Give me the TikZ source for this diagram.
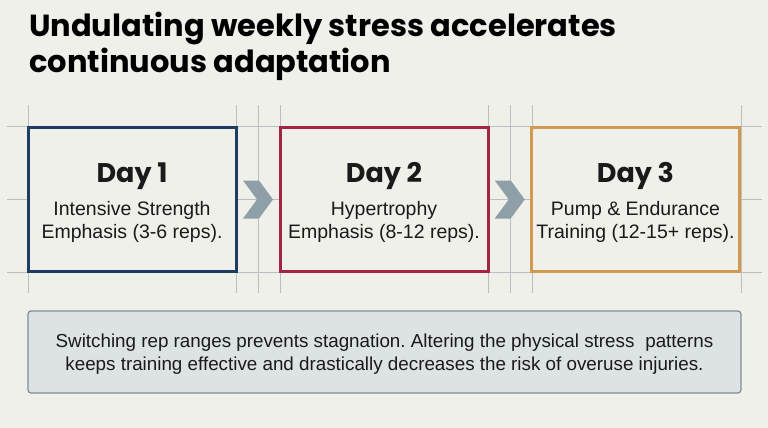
\documentclass[tikz,border=0pt]{standalone}
\usepackage{fontspec}
\setmainfont{Liberation Sans}
\newfontfamily\headfont{Poppins}
\usetikzlibrary{calc}
\definecolor{bg}{HTML}{F0F0EB}
\definecolor{gridc}{HTML}{B9C0C4}
\definecolor{navy}{HTML}{1D3D63}
\definecolor{crimson}{HTML}{A52443}
\definecolor{gold}{HTML}{D39A4F}
\definecolor{chev}{HTML}{8E9FA7}
\definecolor{notefill}{HTML}{DDE2E4}
\definecolor{noteline}{HTML}{7E8B94}
\definecolor{ink}{HTML}{1A1A1A}
\tikzset{
  gridline/.style={draw=gridc, line width=0.8pt},
  daybox/.style={draw=#1, line width=3pt, fill=bg, minimum width=208pt, minimum height=144pt, inner sep=0pt},
  daytitle/.style={font=\headfont\bfseries\fontsize{27}{30}\selectfont, text=ink, anchor=base, inner sep=0pt},
  daytext/.style={font=\fontsize{19.5}{23}\selectfont, text=ink, anchor=base, inner sep=0pt},
  chevron/.style={fill=chev, draw=none},
  titletext/.style={font=\headfont\bfseries\fontsize{30.5}{35}\selectfont, text=black, anchor=base west, inner sep=0pt},
  notebox/.style={draw=noteline, line width=1.2pt, fill=notefill, rounded corners=3pt, minimum width=713pt, minimum height=82pt, inner sep=0pt},
  notetext/.style={font=\fontsize{18.8}{23}\selectfont, text=ink, anchor=base, inner sep=0pt}
}
\begin{document}
\frenchspacing
\begin{tikzpicture}[x=1pt,y=-1pt]
\fill[bg] (0,0) rectangle (768,428);
\useasboundingbox (0,0) rectangle (768,428);
% grid
\foreach \gy in {126,199,272} \draw[gridline] (7,\gy) -- (762,\gy);
\foreach \gx in {28,236,258,280,488,510,532,741} \draw[gridline] (\gx,105) -- (\gx,293);
% title
\node[titletext] (t1) at (29,37) {Undulating weekly stress accelerates};
\node[titletext] (t2) at (29,72) {continuous adaptation};
% boxes
\node[daybox=navy] (d1) at (132,199.5) {};
\node[daybox=crimson] (d2) at (384,199.5) {};
\node[daybox=gold] (d3) at (635.5,199.5) {};
\foreach \b/\n/\la/\lb in {d1/1/Intensive Strength/Emphasis (3-6 reps).,d2/2/Hypertrophy/Emphasis (8-12 reps).,d3/3/Pump \& Endurance/Training (12-15+ reps).}{
  \node[daytitle] (\b h) at ($(\b.center)+(0,-17.5)$) {Day \n};
  \node[daytext] (\b a) at ($(\b.center)+(0,15.5)$) {\la};
  \node[daytext] (\b b) at ($(\b.center)+(0,38.5)$) {\lb};
}
% chevrons
\coordinate (c1) at ($(d1.east)!0.5!(d2.west)$);
\coordinate (c2) at ($(d2.east)!0.5!(d3.west)$);
\foreach \c in {c1,c2}
  \fill[chevron] ($(\c)+(-15,-19)$) -- ($(\c)+(1,-19)$) -- ($(\c)+(15,0)$) -- ($(\c)+(1,19)$) -- ($(\c)+(-15,19)$) -- ($(\c)+(-1,0)$) -- cycle;
% note
\node[notebox] (n) at (384.5,352) {};
\node[notetext] (n1) at ($(n.center)+(0,-5)$) {Switching rep ranges prevents stagnation. Altering the physical stress\hspace{0.3em} patterns};
\node[notetext] (n2) at ($(n.center)+(0,18)$) {keeps training effective and drastically decreases the risk of overuse injuries.};
\end{tikzpicture}
\end{document}
